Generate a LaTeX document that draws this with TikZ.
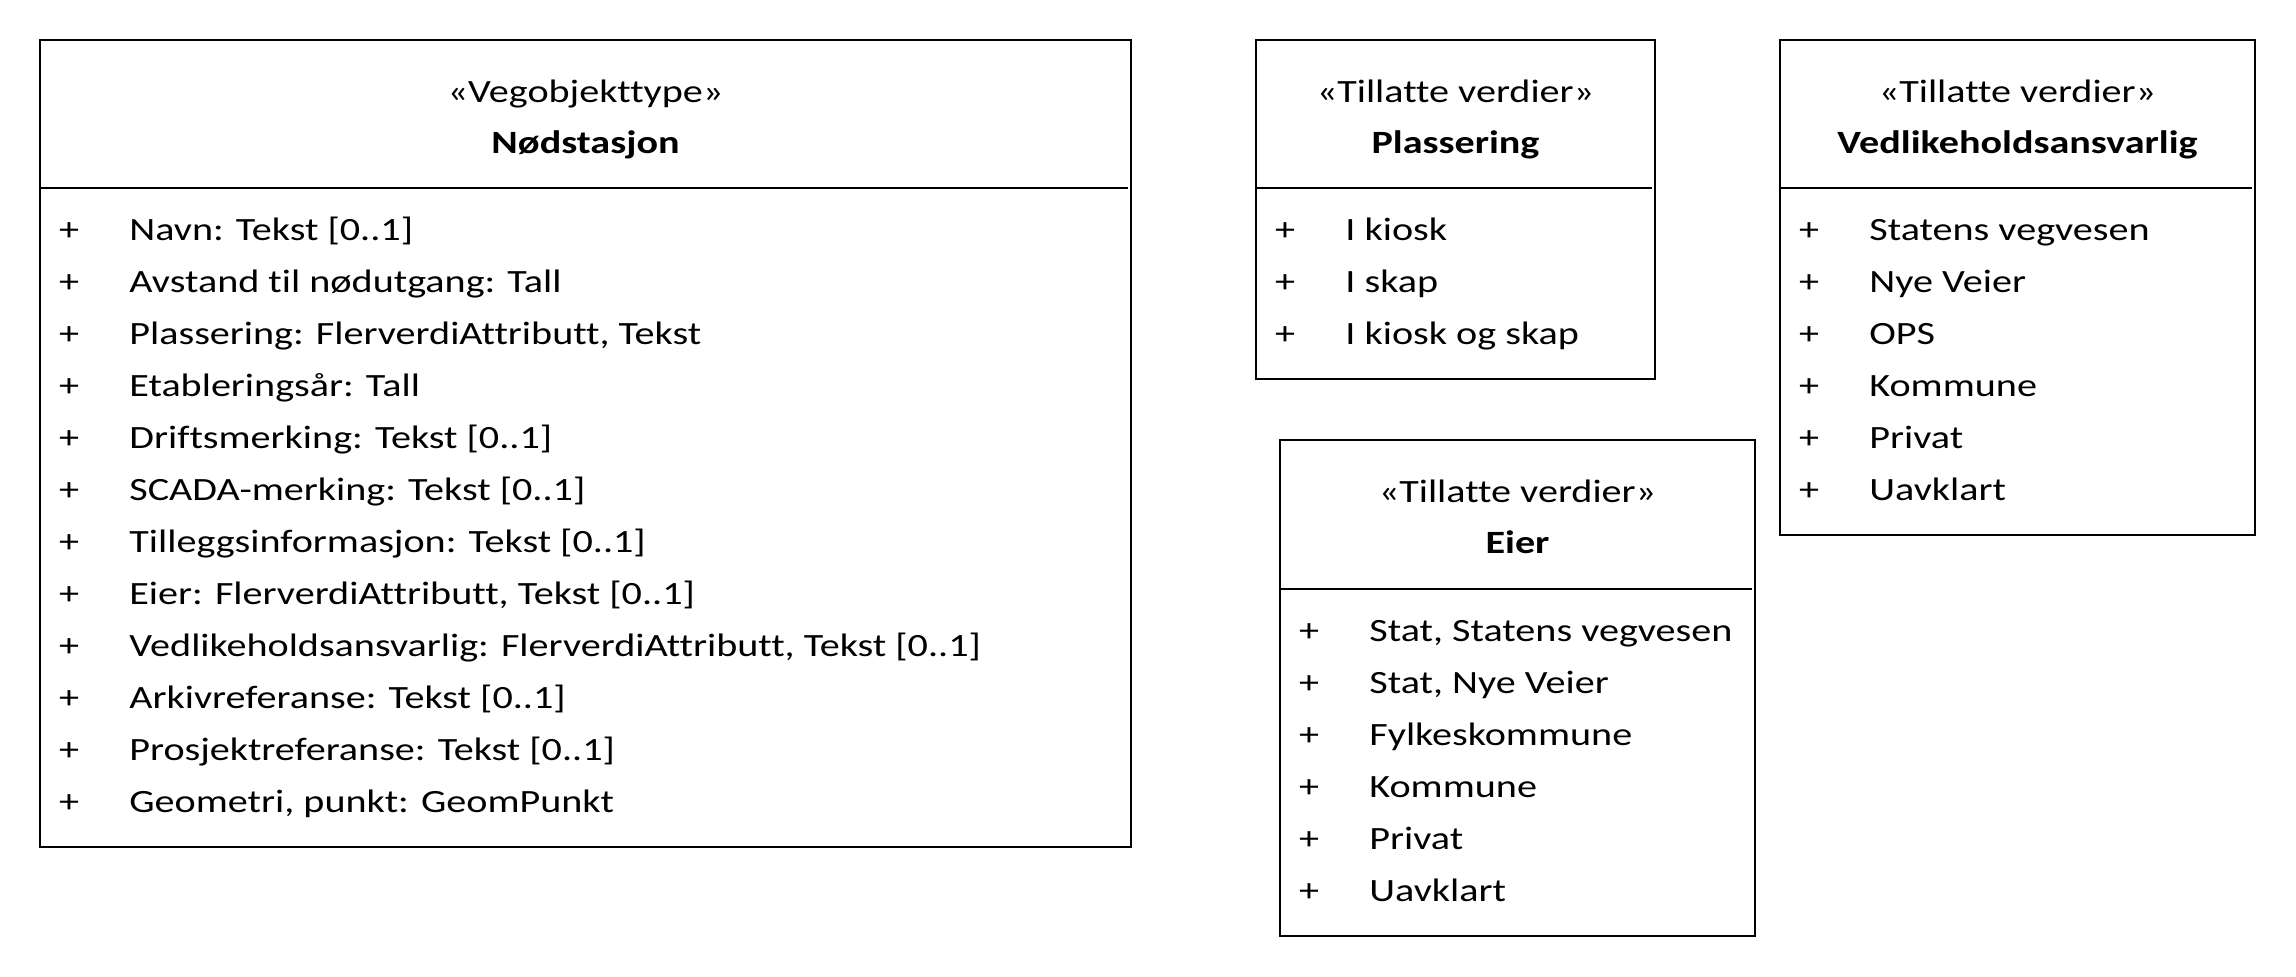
\documentclass[tikz,border=0pt]{standalone}
\usepackage{fontspec}
\setmainfont{Carlito}[FakeStretch=1.235, Ligatures={NoCommon}]
\usetikzlibrary{fit}

\tikzset{
  boxframe/.style={draw=black, line width=0.7pt, inner sep=0pt},
  divline/.style={draw=black, line width=0.7pt},
  stereotxt/.style={anchor=base, inner sep=0pt, font=\fontsize{16.25pt}{19pt}\selectfont},
  nametxt/.style={anchor=base, inner sep=0pt, font=\fontsize{16.25pt}{19pt}\selectfont\bfseries},
  plussign/.style={anchor=base, inner sep=0pt, font=\fontsize{16.25pt}{19pt}\selectfont},
  attrtxt/.style={anchor=base west, inner sep=0pt, font=\fontsize{16.25pt}{19pt}\selectfont},
}

% one list entry: #1 node name, #2 box left x, #3 baseline y, #4 text
\newcommand\classrow[4]{%
  \node[plussign] (#1p) at (#2+29,#3) {+};
  \node[attrtxt] (#1) at (#2+89,#3) {#4};
}

\begin{document}
\begin{tikzpicture}[x=0.5pt, y=-0.5pt]
  \useasboundingbox (0,0) rectangle (2296,976);

  % Nødstasjon
  \node[boxframe, fit={(40,40) (1131,847)}] (main) {};
  \draw[divline] (40,188) -- (1128,188);
  \node[stereotxt] (main-st) at (585.5,102) {«Vegobjekttype»};
  \node[nametxt] (main-nm) at (585.5,153) {Nødstasjon};
  \classrow{m1}{40}{240}{Navn: Tekst [0..1]}
  \classrow{m2}{40}{292}{Avstand til nødutgang: Tall}
  \classrow{m3}{40}{344}{Plassering: FlerverdiAttributt, Tekst}
  \classrow{m4}{40}{396}{Etableringsår: Tall}
  \classrow{m5}{40}{448}{Driftsmerking: Tekst [0..1]}
  \classrow{m6}{40}{500}{SCADA-merking: Tekst [0..1]}
  \classrow{m7}{40}{552}{Tilleggsinformasjon: Tekst [0..1]}
  \classrow{m8}{40}{604}{Eier: FlerverdiAttributt, Tekst [0..1]}
  \classrow{m9}{40}{656}{Vedlikeholdsansvarlig: FlerverdiAttributt, Tekst [0..1]}
  \classrow{m10}{40}{708}{Arkivreferanse: Tekst [0..1]}
  \classrow{m11}{40}{760}{Prosjektreferanse: Tekst [0..1]}
  \classrow{m12}{40}{812}{Geometri, punkt: GeomPunkt}

  % Plassering
  \node[boxframe, fit={(1256,40) (1655,379)}] (plass) {};
  \draw[divline] (1256,188) -- (1652,188);
  \node[stereotxt] (plass-st) at (1455.5,102) {«Tillatte verdier»};
  \node[nametxt] (plass-nm) at (1455.5,153) {Plassering};
  \classrow{p1}{1256}{240}{I kiosk}
  \classrow{p2}{1256}{292}{I skap}
  \classrow{p3}{1256}{344}{I kiosk og skap}

  % Vedlikeholdsansvarlig
  \node[boxframe, fit={(1780,40) (2255,535)}] (vedl) {};
  \draw[divline] (1780,188) -- (2252,188);
  \node[stereotxt] (vedl-st) at (2017.5,102) {«Tillatte verdier»};
  \node[nametxt] (vedl-nm) at (2017.5,153) {Vedlikeholdsansvarlig};
  \classrow{v1}{1780}{240}{Statens vegvesen}
  \classrow{v2}{1780}{292}{Nye Veier}
  \classrow{v3}{1780}{344}{OPS}
  \classrow{v4}{1780}{396}{Kommune}
  \classrow{v5}{1780}{448}{Privat}
  \classrow{v6}{1780}{500}{Uavklart}

  % Eier
  \node[boxframe, fit={(1280,440) (1755,936)}] (eier) {};
  \draw[divline] (1280,589) -- (1752,589);
  \node[stereotxt] (eier-st) at (1517.5,502) {«Tillatte verdier»};
  \node[nametxt] (eier-nm) at (1517.5,553) {Eier};
  \classrow{e1}{1280}{641}{Stat, Statens vegvesen}
  \classrow{e2}{1280}{693}{Stat, Nye Veier}
  \classrow{e3}{1280}{745}{Fylkeskommune}
  \classrow{e4}{1280}{797}{Kommune}
  \classrow{e5}{1280}{849}{Privat}
  \classrow{e6}{1280}{901}{Uavklart}
\end{tikzpicture}
\end{document}
